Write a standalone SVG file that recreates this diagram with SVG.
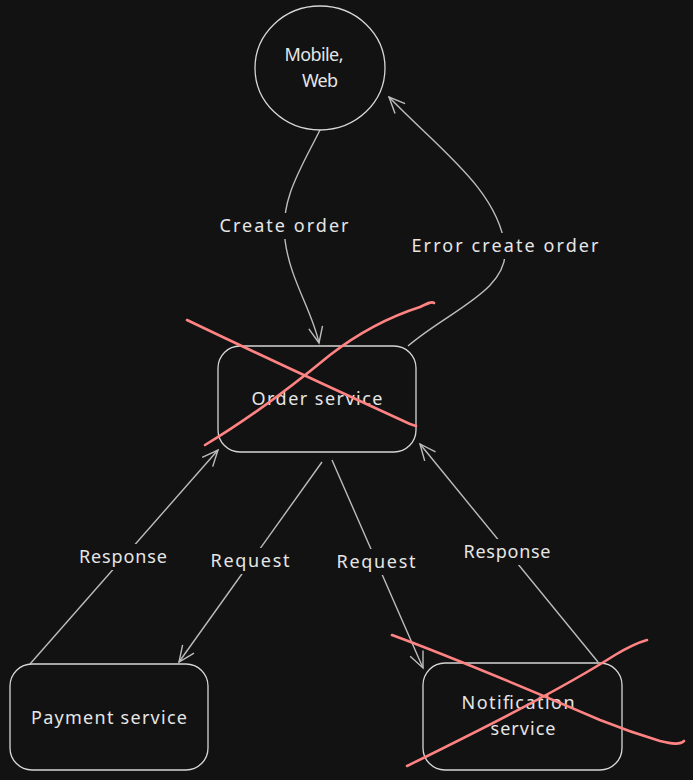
<svg xmlns="http://www.w3.org/2000/svg" width="693" height="780" viewBox="0 0 693 780">
<style>
.bg{fill:#121212}
.shape{fill:none;stroke:#d6d6d6;stroke-width:1.3}
.conn{fill:none;stroke:#bdbdbd;stroke-width:1.4}
.lbl{fill:#121212}
.t{font-family:"Noto Sans","Liberation Sans",sans-serif;font-size:18px;fill:#e6e6e6;text-anchor:middle}
.x{fill:none;stroke:#ff8383;stroke-width:2.6;stroke-linecap:round;stroke-linejoin:round}
</style>
<defs>
<marker id="arr" viewBox="0 0 20 20" refX="18" refY="10" markerWidth="20" markerHeight="20" markerUnits="userSpaceOnUse" orient="auto">
<path d="M2,3 L18,10 L2,17" fill="none" stroke="#bdbdbd" stroke-width="1.4"/>
</marker>
</defs>
<rect class="bg" x="0" y="0" width="693" height="780"/>
<g id="connectors">
<path class="conn" d="M320,130 C300,170 280,200 285,240 C290,280 312,310 319,343" marker-end="url(#arr)"/>
<path class="conn" d="M408,346 C450,310 510,290 505,247 C498,190 440,150 389,97" marker-end="url(#arr)"/>
<path class="conn" d="M30,664 L218,450" marker-end="url(#arr)"/>
<path class="conn" d="M322,462 L179,662" marker-end="url(#arr)"/>
<path class="conn" d="M332,460 L423,668" marker-end="url(#arr)"/>
<path class="conn" d="M598,662 L420,444" marker-end="url(#arr)"/>
<rect class="lbl" x="216" y="213" width="135" height="26"/>
<text class="t" x="284" y="232" textLength="129" lengthAdjust="spacing">Create order</text>
<rect class="lbl" x="409" y="233" width="193" height="26"/>
<text class="t" x="505" y="252" textLength="187" lengthAdjust="spacing">Error create order</text>
<rect class="lbl" x="76" y="544" width="94" height="26"/>
<text class="t" x="123" y="563" textLength="88" lengthAdjust="spacing">Response</text>
<rect class="lbl" x="208" y="548" width="85" height="26"/>
<text class="t" x="250" y="567" textLength="79" lengthAdjust="spacing">Request</text>
<rect class="lbl" x="334" y="549" width="85" height="26"/>
<text class="t" x="376" y="568" textLength="79" lengthAdjust="spacing">Request</text>
<rect class="lbl" x="461" y="539" width="93" height="26"/>
<text class="t" x="507" y="558" textLength="87" lengthAdjust="spacing">Response</text>
</g>
<g id="mobile-web">
<ellipse class="shape" cx="320" cy="68" rx="65" ry="62"/>
<text class="t" x="314" y="61" textLength="59" lengthAdjust="spacing">Mobile,</text>
<text class="t" x="320" y="87" textLength="36" lengthAdjust="spacing">Web</text>
</g>
<g id="order-service">
<rect class="shape" x="218" y="346" width="198" height="106" rx="22"/>
<text class="t" x="317" y="405" textLength="131" lengthAdjust="spacing">Order service</text>
<path class="x" d="M187,320 C260,355 340,392 410,424 L416,426"/>
<path class="x" d="M205,445 C250,418 290,388 330,355 C365,328 395,315 420,307 C428,303 432,301 434,303"/>
</g>
<g id="payment-service">
<rect class="shape" x="10" y="664" width="198" height="106" rx="22"/>
<text class="t" x="109" y="724" textLength="156" lengthAdjust="spacing">Payment service</text>
</g>
<g id="notification-service">
<rect class="shape" x="423" y="663" width="199" height="107" rx="22"/>
<text class="t" x="518" y="709" textLength="113" lengthAdjust="spacing">Notification</text>
<text class="t" x="523" y="735" textLength="65" lengthAdjust="spacing">service</text>
<path class="x" d="M392,635 C460,660 530,690 600,720 C620,728 640,735 660,741 C672,744 680,745 684,741"/>
<path class="x" d="M407,766 C480,730 560,690 615,655 C630,646 640,642 647,640"/>
</g>
</svg>
